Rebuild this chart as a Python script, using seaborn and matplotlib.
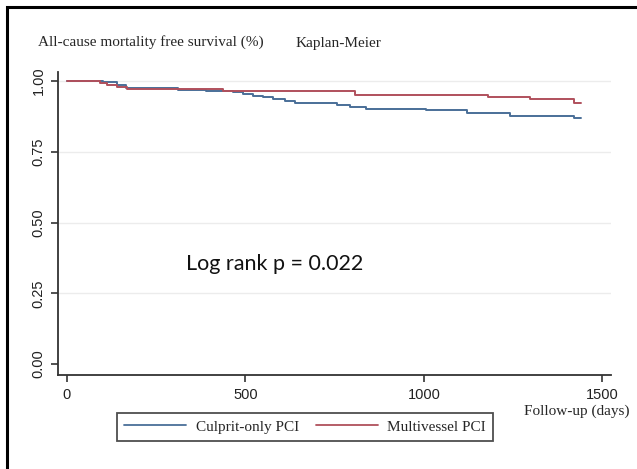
import matplotlib
matplotlib.use("Agg")
import matplotlib.pyplot as plt
import numpy as np
import pandas as pd
import seaborn as sns
from matplotlib.patches import Rectangle

# Kaplan-Meier step estimates
culprit_days = [0, 100, 140, 165, 310, 390, 465, 493, 521, 549, 577, 610, 639,
                756, 793, 838, 1006, 1120, 1240, 1422, 1440]
culprit_surv = [1.000, 0.996, 0.986, 0.975, 0.970, 0.965, 0.960, 0.954, 0.948,
                0.943, 0.938, 0.931, 0.921, 0.917, 0.910, 0.903, 0.897, 0.886,
                0.877, 0.869, 0.869]
multi_days = [0, 92, 111, 139, 167, 437, 806, 1180, 1297, 1422, 1440]
multi_surv = [1.000, 0.994, 0.986, 0.979, 0.972, 0.965, 0.952, 0.944, 0.936,
              0.924, 0.924]
groups = ["Culprit-only PCI", "Multivessel PCI"]
colors = ["#4a6f98", "#b0505c"]
y_ticks = [0.0, 0.25, 0.5, 0.75, 1.0]
x_ticks = [0, 500, 1000, 1500]

df = pd.concat([
    pd.DataFrame({"days": culprit_days, "surv": culprit_surv, "group": groups[0]}),
    pd.DataFrame({"days": multi_days, "surv": multi_surv, "group": groups[1]}),
], ignore_index=True)

sns.set_theme(style="white")
serif = "Liberation Serif"
sans = "Liberation Sans"

fig = plt.figure(figsize=(6.37, 4.69), dpi=100)
ax = fig.add_axes([0.091, 0.2004, 0.868, 0.646])

for y in y_ticks[1:]:
    ax.axhline(y, color="#ececec", lw=1.0, zorder=0)

sns.lineplot(data=df, x="days", y="surv", hue="group", palette=colors,
             drawstyle="steps-post", lw=1.4, ax=ax, legend=False,
             estimator=None, sort=False)

ax.set_xlim(-25, 1524)
ax.set_ylim(-0.039, 1.032)
ax.set_xticks(x_ticks)
ax.set_yticks(y_ticks)
ax.set_yticklabels([f"{v:.2f}" for v in y_ticks], rotation=90, va="center",
                   family=sans, fontsize=10.5, color="#222222")
ax.set_xticklabels([str(v) for v in x_ticks], family=sans, fontsize=10.5,
                   color="#222222")
ax.tick_params(axis="both", direction="out", length=5, width=1.2,
               color="#333333", left=True, bottom=True, pad=4)
for side in ["top", "right"]:
    ax.spines[side].set_visible(False)
for side in ["left", "bottom"]:
    ax.spines[side].set_color("#333333")
    ax.spines[side].set_linewidth(1.3)
ax.set_xlabel("")
ax.set_ylabel("")

fig.text(38 / 637, 1 - 42 / 469, "All-cause mortality free survival (%)",
         family=serif, fontsize=11, va="center", ha="left")
fig.text(296 / 637, 1 - 43 / 469, "Kaplan-Meier", family=serif, fontsize=11,
         va="center", ha="left")
fig.text(630 / 637, 1 - 411 / 469, "Follow-up (days)", family=serif,
         fontsize=11, va="center", ha="right")
ax.text(583, 0.5 - (263 - 222) / 283, "Log rank p = 0.022", family="Lato",
        fontsize=15.5, ha="center", va="center", color="#111111")

handles = [plt.Line2D([], [], color=c, lw=1.3) for c in colors]
leg = fig.legend(handles, groups, loc="center",
                 bbox_to_anchor=(305 / 637, 1 - 427 / 469),
                 ncol=2, frameon=True, fancybox=False,
                 prop={"family": serif, "size": 11},
                 handlelength=4.1, columnspacing=1.1, borderpad=0.45,
                 handletextpad=0.6)
leg.get_frame().set_edgecolor("#222222")
leg.get_frame().set_linewidth(1.3)

fig.patches.append(Rectangle((7 / 637, -0.1), 1.2, 1 - 7 / 469 + 0.1,
                             transform=fig.transFigure, fill=False,
                             edgecolor="black", lw=2.2))

fig.savefig("out.png", dpi=100)
